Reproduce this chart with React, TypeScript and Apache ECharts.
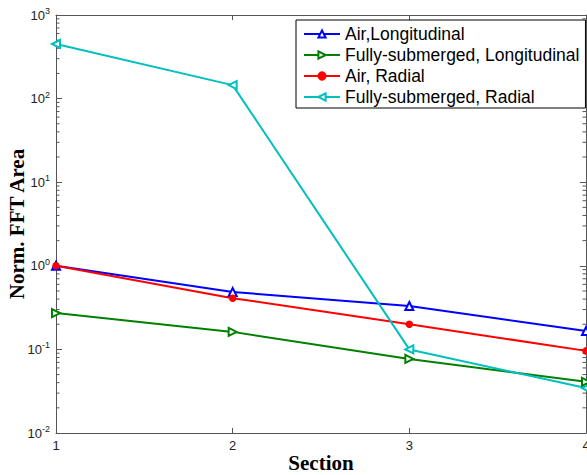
import React, { useEffect, useRef } from "react";
import * as echarts from "echarts";

const sections = [1, 2, 3, 4];
const airLongitudinal = [1.0, 0.486, 0.33, 0.166];
const subLongitudinal = [0.272, 0.162, 0.077, 0.041];
const airRadial = [1.0, 0.41, 0.2, 0.096];
const subRadial = [450, 145, 0.1, 0.0345];
const seriesNames = [
  "Air,Longitudinal",
  "Fully-submerged, Longitudinal",
  "Air, Radial",
  "Fully-submerged, Radial",
];
const yMin = 0.01;
const yMax = 1000;
const minorTickValues: number[] = [];
for (let e = -2; e < 3; e++) {
  for (let m = 2; m <= 9; m++) minorTickValues.push(m * Math.pow(10, e));
}

const axisColor = "#555";
const labelColor = "#222";

export default function App() {
  const ref = useRef<HTMLDivElement>(null);
  useEffect(() => {
    if (!ref.current) return;
    const chart = echarts.init(ref.current, undefined, { renderer: "svg" });
    const mk = (name: string, data: number[], color: string, symbol: string, rot: number, size: number) => ({
      name,
      type: "line",
      data: sections.map((s, i) => [s, data[i]]),
      symbol,
      symbolSize: size,
      symbolRotate: rot,
      lineStyle: { color, width: 2 },
      itemStyle: { color, borderColor: color, borderWidth: 1.5 },
      z: 3,
    });
    chart.setOption({
      animation: false,
      backgroundColor: "#fff",
      grid: { left: 56, right: 1, top: 15, bottom: 42, containLabel: false, outerBoundsMode: "none" },
      legend: {
        orient: "vertical",
        left: 296,
        top: 20,
        data: seriesNames,
        backgroundColor: "#fff",
        borderColor: "#000",
        borderWidth: 1,
        borderRadius: 0,
        padding: [5, 6, 2, 7],
        itemWidth: 36,
        itemHeight: 9,
        itemGap: 3,
        itemTextGap: 5,
        textStyle: { fontFamily: "Liberation Sans", fontSize: 17.5, color: "#000", lineHeight: 18 },
      },
      xAxis: [
        {
          type: "value",
          min: 1,
          max: 4,
          interval: 1,
          position: "bottom",
          name: "Section",
          nameLocation: "middle",
          nameGap: 19,
          nameMoveOverlap: false,
          nameTextStyle: { fontFamily: "Liberation Serif", fontWeight: "bold", fontSize: 21, color: "#000" },
          axisLine: { onZero: false, lineStyle: { color: axisColor, width: 1 } },
          axisTick: { inside: true, length: 5, lineStyle: { color: axisColor } },
          axisLabel: { fontFamily: "Liberation Sans", fontSize: 13, color: labelColor, margin: 6 },
          splitLine: { show: false },
        },
        {
          type: "value",
          min: 1,
          max: 4,
          interval: 1,
          position: "top",
          axisLine: { onZero: false, lineStyle: { color: axisColor, width: 1 } },
          axisTick: { inside: true, length: 5, lineStyle: { color: axisColor } },
          axisLabel: { show: false },
          splitLine: { show: false },
        },
      ],
      yAxis: [
        {
          type: "log",
          logBase: 10,
          min: yMin,
          max: yMax,
          position: "left",
          name: "Norm. FFT Area",
          nameLocation: "middle",
          nameGap: 29,
          nameMoveOverlap: false,
          nameTextStyle: { fontFamily: "Liberation Serif", fontWeight: "bold", fontSize: 21, color: "#000" },
          axisLine: { onZero: false, lineStyle: { color: axisColor, width: 1 } },
          axisTick: { inside: true, length: 6, lineStyle: { color: axisColor } },
          axisLabel: {
            margin: 6,
            fontFamily: "Liberation Sans",
            fontSize: 13,
            color: labelColor,
            formatter: (v: number) => "10{sup|" + Math.round(Math.log10(v)) + "}",
            rich: {
              sup: { fontFamily: "Liberation Sans", fontSize: 9, color: labelColor, verticalAlign: "top", padding: [0, 0, 8, 0] },
            },
          },
          splitLine: { show: false },
        },
        {
          type: "log",
          logBase: 10,
          min: yMin,
          max: yMax,
          position: "right",
          axisLine: { onZero: false, lineStyle: { color: axisColor, width: 1 } },
          axisTick: { inside: true, length: 6, lineStyle: { color: axisColor } },
          axisLabel: { show: false },
          splitLine: { show: false },
        },
      ],
      series: [
        mk(seriesNames[0], airLongitudinal, "#0000ff", "emptyTriangle", 0, 8),
        mk(seriesNames[1], subLongitudinal, "#008000", "emptyTriangle", -90, 8),
        mk(seriesNames[2], airRadial, "#ff0000", "circle", 0, 6),
        mk(seriesNames[3], subRadial, "#00bfbf", "emptyTriangle", 90, 8),
        {
          type: "custom",
          name: "minorTicks",
          silent: true,
          clip: false,
          data: minorTickValues.map((v) => [v]),
          renderItem: (params: any, api: any) => {
            const v = api.value(0);
            const l = api.coord([1, v]);
            const r = api.coord([4, v]);
            const style = { stroke: axisColor, lineWidth: 1 };
            return {
              type: "group",
              children: [
                { type: "line", shape: { x1: l[0], y1: l[1], x2: l[0] + 3.5, y2: l[1] }, style },
                { type: "line", shape: { x1: r[0], y1: r[1], x2: r[0] - 3.5, y2: r[1] }, style },
              ],
            };
          },
          z: 1,
        },
      ],
    });
    return () => chart.dispose();
  }, []);
  return <div ref={ref} style={{ width: 587, height: 475, position: "absolute", left: 0, top: 0 }} />;
}
